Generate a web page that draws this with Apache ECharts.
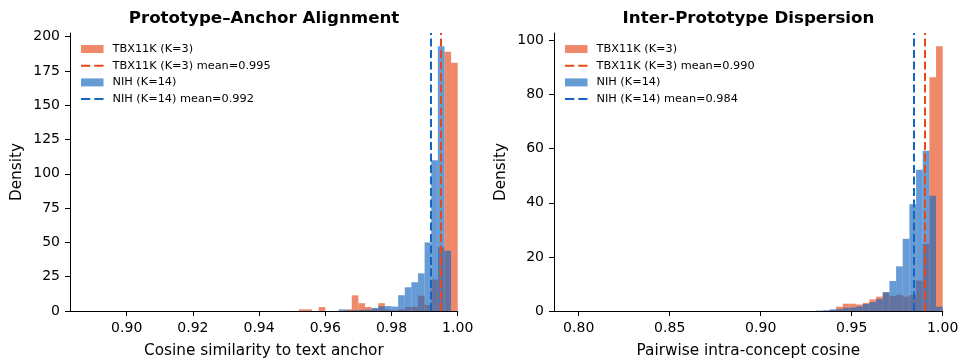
<!DOCTYPE html>
<html>
<head>
<meta charset="utf-8">
<script src="https://cdn.jsdelivr.net/npm/echarts@6/dist/echarts.min.js"></script>
<style>
html,body{margin:0;padding:0;background:#fff;}
#chart{width:959px;height:358px;}
</style>
</head>
<body>
<div id="chart"></div>
<script>
// ---------- Left panel: Prototype–Anchor Alignment ----------
const leftBinEdges = [0.952,0.954,0.956,0.958,0.960,0.962,0.964,0.966,0.968,0.970,0.972,0.974,
                      0.976,0.978,0.980,0.982,0.984,0.986,0.988,0.990,0.992,0.994,0.996,0.998,1.000];
const leftTBX = [1.2,1.2,0,2.9,0,0,0,1.2,11.4,5.7,2.9,1.5,
                 5.7,1.0,0.5,1.2,2.9,3.0,11.2,4.4,23.0,46.5,189.0,181.0];
const leftNIH = [0,0,0,0,0,0,1.2,0.5,0.5,0.8,1.0,2.2,
                 3.4,3.6,3.2,11.5,17.3,21.0,27.5,50.0,110.0,193.0,44.0,0];
const leftMeanTBX = 0.995;
const leftMeanNIH = 0.992;
const leftXTicks = [0.90,0.92,0.94,0.96,0.98,1.00];
const leftYTicks = [0,25,50,75,100,125,150,175,200];

// ---------- Right panel: Inter-Prototype Dispersion ----------
const rightBinEdges = [0.93046,0.93412,0.93778,0.94144,0.94510,0.94876,0.95242,0.95608,0.95974,0.96340,
                       0.96706,0.97072,0.97438,0.97804,0.98170,0.98536,0.98902,0.99268,0.99634,1.00000];
const rightTBX = [0,0,0.3,1.6,2.7,2.7,2.4,3.0,4.3,5.3,
                  6.8,5.6,6.0,5.3,5.9,11.2,24.8,86.4,97.9];
const rightNIH = [0.15,0.3,0.6,0.7,1.2,1.3,1.7,2.6,3.3,4.4,
                  7.0,11.1,16.5,26.7,39.5,52.2,59.3,42.6,1.6];
const rightMeanTBX = 0.990;
const rightMeanNIH = 0.984;
const rightXTicks = [0.80,0.85,0.90,0.95,1.00];
const rightYTicks = [0,20,40,60,80,100];

// ---------- styling ----------
const FONT = 'DejaVu Sans';
const ORANGE = '#E64A19';
const BLUE = '#1565C0';
const ORANGE_FILL = 'rgba(230,74,25,0.65)';
const BLUE_FILL = 'rgba(21,101,192,0.65)';
const DASH = [8, 3.5];
const HIDDEN_SYMBOL = { color: 'rgba(0,0,0,0)', borderColor: 'rgba(0,0,0,0)', borderWidth: 0, opacity: 0 };

function toBins(edges, heights) {
  return heights.map((h, i) => [edges[i], edges[i + 1], h]);
}
function renderBar(params, api) {
  const a = api.coord([api.value(0), 0]);
  const b = api.coord([api.value(1), api.value(2)]);
  return {
    type: 'rect',
    shape: { x: a[0], y: b[1], width: b[0] - a[0], height: a[1] - b[1] },
    style: { fill: api.visual('color') }
  };
}
function histSeries(name, idx, data, fill, z) {
  return {
    type: 'custom', name: name, xAxisIndex: idx, yAxisIndex: idx, z: z,
    itemStyle: { color: fill },
    encode: { x: [0, 1], y: 2 },
    renderItem: renderBar,
    data: data,
    silent: true
  };
}
function meanSeries(name, idx, value, color, z) {
  return {
    type: 'line', name: name, xAxisIndex: idx, yAxisIndex: idx, z: z,
    data: [], symbol: 'none', showSymbol: false,
    itemStyle: { color: color },
    lineStyle: { color: color, width: 2, type: DASH },
    markLine: {
      silent: true, symbol: ['none', 'none'], label: { show: false },
      precision: 6,
      lineStyle: { color: color, width: 2, type: DASH },
      emphasis: { disabled: true },
      data: [{ xAxis: value }]
    }
  };
}
function xAxis(idx, min, max, ticks, name) {
  return {
    type: 'value', gridIndex: idx, min: min, max: max,
    splitLine: { show: false },
    axisLine: { show: true, onZero: false, lineStyle: { color: '#000', width: 1 } },
    axisTick: { show: true, customValues: ticks, length: 5, lineStyle: { color: '#000', width: 1 } },
    axisLabel: { show: true, customValues: ticks, formatter: v => Number(v).toFixed(2), margin: 10,
                 fontSize: 14, color: '#000', fontFamily: FONT },
    name: name, nameLocation: 'middle', nameGap: 33,
    nameTextStyle: { fontSize: 15.3, color: '#000', fontFamily: FONT }
  };
}
function yAxis(idx, max, ticks) {
  return {
    type: 'value', gridIndex: idx, min: 0, max: max,
    splitLine: { show: false },
    axisLine: { show: true, onZero: false, lineStyle: { color: '#000', width: 1 } },
    axisTick: { show: true, customValues: ticks, length: 5, lineStyle: { color: '#000', width: 1 } },
    axisLabel: { show: true, customValues: ticks, formatter: v => String(Math.round(v)), margin: 10,
                 fontSize: 14, color: '#000', fontFamily: FONT },
    name: 'Density', nameLocation: 'middle', nameGap: 45,
    nameTextStyle: { fontSize: 15.3, color: '#000', fontFamily: FONT }
  };
}
function legend(idx, left, names) {
  return {
    left: left, top: 43, orient: 'vertical', padding: 0, itemGap: 4.7,
    itemWidth: 22.5, itemHeight: 8, selectedMode: false,
    textStyle: { fontSize: 11.3, color: '#000', fontFamily: FONT, padding: [0, 0, 0, 4], lineHeight: 12 },
    data: [
      { name: names[0], icon: 'rect' },
      { name: names[1], lineStyle: { type: [9.3, 4], width: 2 }, itemStyle: HIDDEN_SYMBOL },
      { name: names[2], icon: 'rect' },
      { name: names[3], lineStyle: { type: [9.3, 4], width: 2 }, itemStyle: HIDDEN_SYMBOL }
    ]
  };
}

const nL = ['TBX11K (K=3)', 'TBX11K (K=3) mean=' + leftMeanTBX.toFixed(3),
            'NIH (K=14)', 'NIH (K=14) mean=' + leftMeanNIH.toFixed(3)];
const nR = ['TBX11K (K=3)', 'TBX11K (K=3) mean=' + rightMeanTBX.toFixed(3),
            'NIH (K=14)', 'NIH (K=14) mean=' + rightMeanNIH.toFixed(3)];

const chart = echarts.init(document.getElementById('chart'), null, { renderer: 'canvas' });
chart.setOption({
  animation: false,
  backgroundColor: '#fff',
  title: [
    { text: 'Prototype\u2013Anchor Alignment', left: 264, top: 10, textAlign: 'center', padding: 0,
      textStyle: { fontSize: 16.7, fontWeight: 'bold', color: '#000', fontFamily: FONT } },
    { text: 'Inter-Prototype Dispersion', left: 748.5, top: 10, textAlign: 'center', padding: 0,
      textStyle: { fontSize: 16.7, fontWeight: 'bold', color: '#000', fontFamily: FONT } }
  ],
  grid: [
    { left: 70, top: 33, width: 387.7, height: 278, outerBoundsMode: 'none', containLabel: false },
    { left: 554, top: 33, width: 388.7, height: 278, outerBoundsMode: 'none', containLabel: false }
  ],
  xAxis: [
    xAxis(0, 0.88287, 1.0, leftXTicks, 'Cosine similarity to text anchor'),
    xAxis(1, 0.78643, 1.0, rightXTicks, 'Pairwise intra-concept cosine')
  ],
  yAxis: [
    yAxis(0, 202.7, leftYTicks),
    yAxis(1, 102.8, rightYTicks)
  ],
  legend: [legend(0, 80, nL), legend(1, 564, nR)],
  series: [
    histSeries(nL[0], 0, toBins(leftBinEdges, leftTBX), ORANGE_FILL, 1),
    meanSeries(nL[1], 0, leftMeanTBX, ORANGE, 5),
    histSeries(nL[2], 0, toBins(leftBinEdges, leftNIH), BLUE_FILL, 2),
    meanSeries(nL[3], 0, leftMeanNIH, BLUE, 6),
    histSeries(nR[0], 1, toBins(rightBinEdges, rightTBX), ORANGE_FILL, 1),
    meanSeries(nR[1], 1, rightMeanTBX, ORANGE, 5),
    histSeries(nR[2], 1, toBins(rightBinEdges, rightNIH), BLUE_FILL, 2),
    meanSeries(nR[3], 1, rightMeanNIH, BLUE, 6)
  ]
});
</script>
</body>
</html>
